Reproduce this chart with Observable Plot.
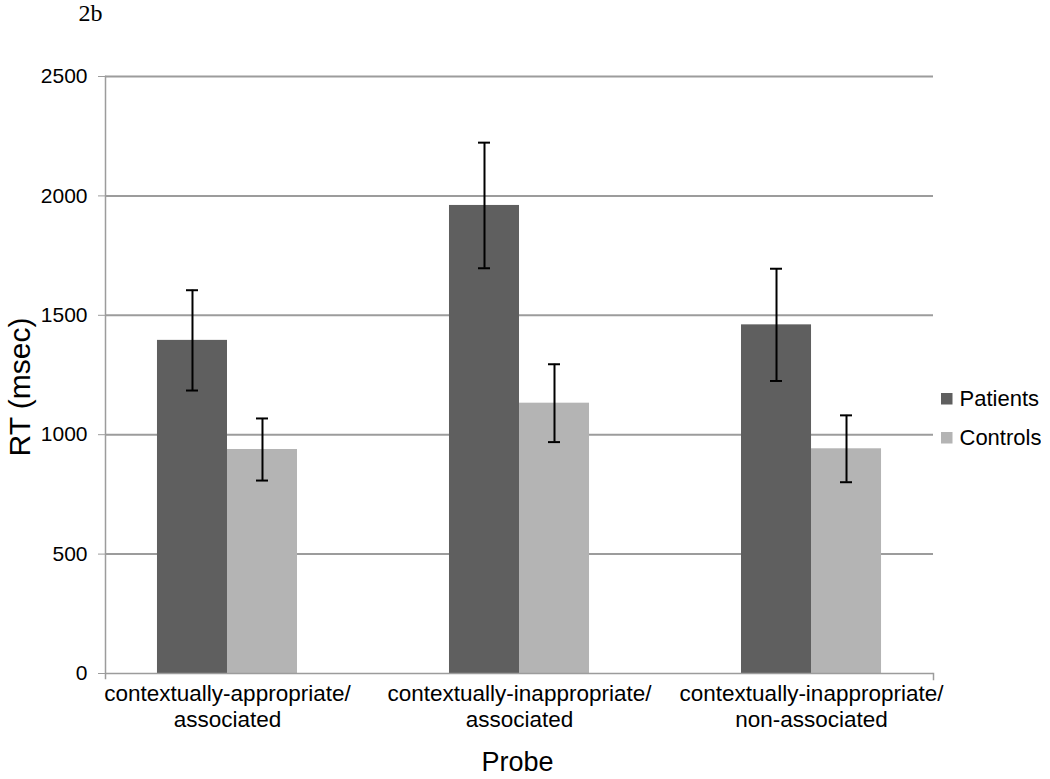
<!DOCTYPE html>
<html>
<head>
<meta charset="utf-8">
<script src="https://cdn.jsdelivr.net/npm/d3@7"></script>
<script src="https://cdn.jsdelivr.net/npm/@observablehq/plot@0.6"></script>
<style>
  html, body { margin: 0; padding: 0; background: #fff; overflow: hidden; }
  #wrap { position: relative; width: 1050px; height: 779px; font-family: "Liberation Sans", Arial, sans-serif; }
  #chart { position: absolute; left: 0; top: 0; }
  #legend { position: absolute; left: 941px; top: 386px; width: 109px; }
  .lg-swatch { padding-bottom: 13px !important; }
  .lg-swatch > svg { margin-right: 7px !important; }
</style>
</head>
<body>
<div id="wrap">
  <div id="chart"></div>
  <div id="legend"></div>
</div>
<script>
// ---- data ----
const categories = [
  "contextually-appropriate/\nassociated",
  "contextually-inappropriate/\nassociated",
  "contextually-inappropriate/\nnon-associated"
];
const series = ["Patients", "Controls"];
const patientsRT = [1395, 1960, 1460];
const patientsErr = [210, 263, 235];
const controlsRT = [938, 1132, 941];
const controlsErr = [130, 163, 140];
const yTicks = [0, 500, 1000, 1500, 2000, 2500];
const seriesColors = ["#5f5f5f", "#b4b4b4"];

const patients = categories.map((c, i) => ({category: c, series: "Patients", rt: patientsRT[i], err: patientsErr[i]}));
const controls = categories.map((c, i) => ({category: c, series: "Controls", rt: controlsRT[i], err: controlsErr[i]}));

const font = "'Liberation Sans', Arial, sans-serif";
const half = 70;      // half of a category band: one bar each
const shift = 35;     // bar centre offset from band centre
const capInset = 64;  // error bar cap half-width = half - capInset

const chart = Plot.plot({
  width: 1050,
  height: 779,
  marginLeft: 105,
  marginRight: 117,
  marginTop: 76,
  marginBottom: 106,
  style: {fontFamily: font, background: "white", color: "black"},
  x: {domain: categories, paddingInner: 0.5205, paddingOuter: 0.178, round: false, label: null},
  y: {domain: [0, 2500], label: null},
  color: {domain: series, range: seriesColors},
  marks: [
    Plot.gridY(yTicks.slice(1), {stroke: "#9c9c9c", strokeOpacity: 1, strokeWidth: 2}),
    Plot.barY(patients, {x: "category", y: "rt", fill: "series", insetRight: half}),
    Plot.barY(controls, {x: "category", y: "rt", fill: "series", insetLeft: half}),
    Plot.ruleY([0], {stroke: "#9c9c9c", strokeWidth: 1.5}),
    Plot.frame({anchor: "left", stroke: "#9c9c9c", strokeWidth: 1.5, insetBottom: -5}),
    Plot.frame({anchor: "right", stroke: "#9c9c9c", strokeWidth: 1.5, insetTop: 597, insetBottom: -6}),
    // error bars
    Plot.ruleX(patients, {x: "category", y1: d => d.rt - d.err, y2: d => d.rt + d.err, dx: -shift, stroke: "black", strokeWidth: 2}),
    Plot.ruleX(controls, {x: "category", y1: d => d.rt - d.err, y2: d => d.rt + d.err, dx: shift, stroke: "black", strokeWidth: 2}),
    Plot.tickY(patients, {x: "category", y: d => d.rt + d.err, dx: -shift, insetLeft: capInset, insetRight: capInset, stroke: "black", strokeWidth: 2}),
    Plot.tickY(patients, {x: "category", y: d => d.rt - d.err, dx: -shift, insetLeft: capInset, insetRight: capInset, stroke: "black", strokeWidth: 2}),
    Plot.tickY(controls, {x: "category", y: d => d.rt + d.err, dx: shift, insetLeft: capInset, insetRight: capInset, stroke: "black", strokeWidth: 2}),
    Plot.tickY(controls, {x: "category", y: d => d.rt - d.err, dx: shift, insetLeft: capInset, insetRight: capInset, stroke: "black", strokeWidth: 2}),
    // axes
    Plot.axisY({ticks: yTicks, tickFormat: d => String(d), tickSize: 7, tickPadding: 11, fontSize: 21, stroke: "#9c9c9c", fill: "black", label: null}),
    Plot.axisX({tickSize: 0, tickPadding: 10, fontSize: 22.5, lineHeight: 1.12, fill: "black", label: null}),
    // axis titles
    Plot.text(["RT (msec)"], {frameAnchor: "left", dx: -85, dy: 12, rotate: -90, fontSize: 30, textAnchor: "middle", lineAnchor: "middle", fill: "black"}),
    Plot.text(["Probe"], {frameAnchor: "bottom", dx: -2, dy: 89, fontSize: 27, textAnchor: "middle", lineAnchor: "middle", fill: "black"}),
    // panel label
    Plot.text(["2b"], {frameAnchor: "top-left", dx: -27, dy: -73, fontSize: 24, fontFamily: "'Liberation Serif', 'Times New Roman', serif", textAnchor: "start", lineAnchor: "top", fill: "black"})
  ]
});
document.getElementById("chart").appendChild(chart);

const legend = Plot.legend({
  color: {domain: series, range: seriesColors},
  columns: 1,
  swatchSize: 11.5,
  className: "lg",
  style: {fontFamily: font, fontSize: "22px", color: "black", margin: "0"}
});
document.getElementById("legend").appendChild(legend);
</script>
</body>
</html>
